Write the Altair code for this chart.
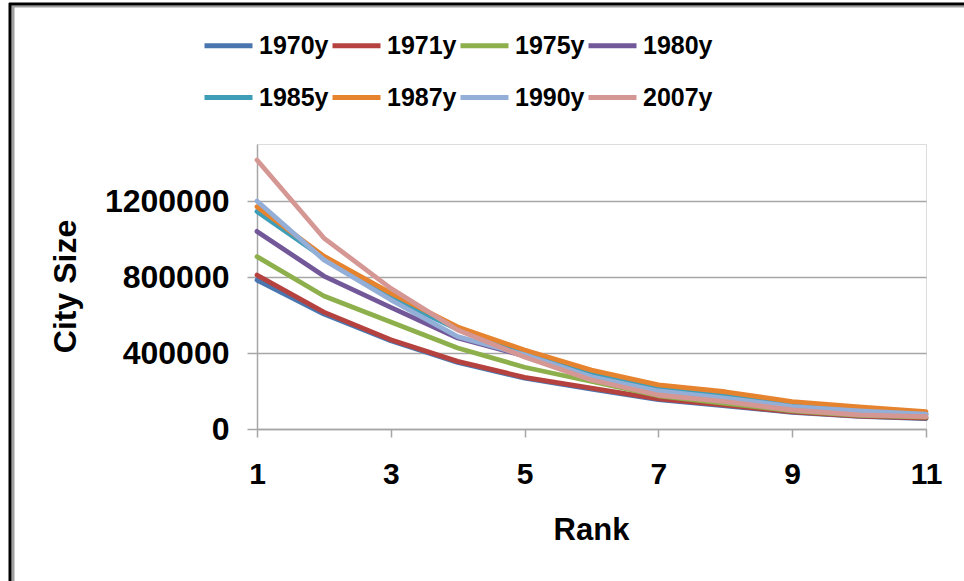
import altair as alt
import pandas as pd

# City size by rank for each survey year
ranks = [1, 2, 3, 4, 5, 6, 7, 8, 9, 10, 11]
years = ["1970y", "1971y", "1975y", "1980y", "1985y", "1987y", "1990y", "2007y"]

size_1970 = [784000, 605000, 465000, 350000, 268000, 210000, 155000, 122000, 88000, 66000, 55000]
size_1971 = [810000, 615000, 470000, 356000, 272000, 215000, 158000, 126000, 90000, 68000, 58000]
size_1975 = [907000, 700000, 563000, 426000, 325000, 250000, 175000, 135000, 96000, 72000, 62000]
size_1980 = [1040000, 805000, 640000, 479000, 385000, 285000, 205000, 165000, 118000, 92000, 75000]
size_1985 = [1145000, 900000, 690000, 525000, 400000, 295000, 212000, 178000, 128000, 102000, 80000]
size_1987 = [1170000, 910000, 715000, 537000, 416000, 310000, 232000, 196000, 144000, 117000, 91000]
size_1990 = [1200000, 890000, 680000, 486000, 390000, 275000, 200000, 163000, 118000, 95000, 78000]
size_2007 = [1416000, 1005000, 740000, 521000, 379000, 258000, 179000, 144000, 100000, 74000, 65000]

series = [size_1970, size_1971, size_1975, size_1980, size_1985, size_1987, size_1990, size_2007]
colors = ["#4A76B0", "#B5423F", "#8DB04C", "#735899", "#3E9EB8", "#E6832F", "#93AFD8", "#D59794"]

rows = []
for order, (year, values) in enumerate(zip(years, series)):
    for rank, value in zip(ranks, values):
        rows.append({"Year": year, "Rank": rank, "Size": value, "order": order})
df = pd.DataFrame(rows)

FONT = "Liberation Sans"
GRID = "#a6a6a6"

lines = alt.Chart(df).mark_line(strokeWidth=4.8, strokeCap="round", strokeJoin="round").encode(
    x=alt.X(
        "Rank:Q",
        scale=alt.Scale(domain=[1, 11], nice=False, zero=False),
        axis=alt.Axis(
            values=[1, 3, 5, 7, 9, 11],
            grid=False,
            tickSize=8,
            tickColor=GRID,
            tickWidth=1.5,
            domainColor=GRID,
            domainWidth=1.5,
            labelFont=FONT,
            labelFontSize=30,
            labelFontWeight="bold",
            labelColor="black",
            labelPadding=22,
            labelFlush=False,
            title="Rank",
            titleFont=FONT,
            titleFontSize=31,
            titleFontWeight="bold",
            titleColor="black",
            titleX=334,
            titleY=101,
            titleBaseline="middle",
        ),
    ),
    y=alt.Y(
        "Size:Q",
        scale=alt.Scale(domain=[0, 1500000], nice=False),
        axis=alt.Axis(
            values=[0, 400000, 800000, 1200000],
            format="d",
            grid=True,
            gridColor=GRID,
            gridWidth=1.5,
            tickSize=10,
            tickColor=GRID,
            tickWidth=1.5,
            domainColor=GRID,
            domainWidth=1.5,
            labelFont=FONT,
            labelFontSize=32,
            labelFontWeight="bold",
            labelColor="black",
            labelPadding=18,
            title="City Size",
            titleFont=FONT,
            titleFontSize=32,
            titleFontWeight="bold",
            titleColor="black",
            titleAngle=-90,
            titleX=-192,
            titleY=142,
            titleBaseline="middle",
            titleAlign="center",
        ),
    ),
    color=alt.Color(
        "Year:N",
        scale=alt.Scale(domain=years, range=colors),
        legend=alt.Legend(
            title=None,
            orient="none",
            legendX=-55,
            legendY=-125,
            direction="horizontal",
            columns=4,
            symbolType="stroke",
            symbolSize=2304,
            symbolStrokeWidth=4.8,
            labelFont=FONT,
            labelFontSize=25,
            labelFontWeight="bold",
            labelColor="black",
            labelOffset=4,
            columnPadding=-7,
            rowPadding=12,
        ),
    ),
    order="order:Q",
    detail="Year:N",
)

# Double frame (black outer, grey inner) along the top and left edges
frame_black_v = alt.Chart().mark_rule(color="black", strokeWidth=3, clip=False).encode(
    x=alt.value(-247), y=alt.value(-141), y2=alt.value(437)
)
frame_grey_v = alt.Chart().mark_rule(color="#a0a0a0", strokeWidth=3, clip=False).encode(
    x=alt.value(-244), y=alt.value(-138), y2=alt.value(437)
)
frame_black_h = alt.Chart().mark_rule(color="black", strokeWidth=3, clip=False).encode(
    y=alt.value(-140), x=alt.value(-248), x2=alt.value(707)
)
frame_grey_h = alt.Chart().mark_rule(color="#a0a0a0", strokeWidth=2, clip=False).encode(
    y=alt.value(-137.5), x=alt.value(-245.5), x2=alt.value(707)
)

chart = alt.layer(lines, frame_grey_v, frame_grey_h, frame_black_v, frame_black_h).properties(
    width=669,
    height=285,
    autosize=alt.AutoSizeParams(type="none"),
    padding={"left": 257, "top": 144, "right": 38, "bottom": 152},
).configure_view(stroke=None).configure(background="white")

chart.save("out.html", embed_options={"renderer": "svg", "actions": False})
